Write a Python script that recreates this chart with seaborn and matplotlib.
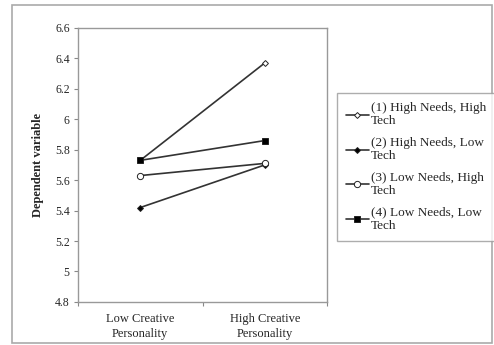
import pandas as pd
import matplotlib.pyplot as plt
import seaborn as sns
from matplotlib.patches import Rectangle
from matplotlib.ticker import FixedLocator

categories = ['Low Creative\nPersonality', 'High Creative\nPersonality']
groups = ['(1) High Needs, High\nTech', '(2) High Needs, Low\nTech',
          '(3) Low Needs, High\nTech', '(4) Low Needs, Low\nTech']
values_1 = [5.73, 6.37]
values_2 = [5.42, 5.70]
values_3 = [5.63, 5.71]
values_4 = [5.73, 5.86]
y_ticks = [4.8, 5.0, 5.2, 5.4, 5.6, 5.8, 6.0, 6.2, 6.4, 6.6]

sns.set_theme(style='white')
plt.rcParams['font.family'] = ['Liberation Serif', 'DejaVu Serif']

fig = plt.figure(figsize=(4.94, 3.45), dpi=100)
ax = fig.add_axes([0.158, 0.125, 0.504, 0.794])

# marker style per series: (marker, size, facecolor)
styles = [('D', 3, 'white'), ('D', 3, 'black'), ('o', 4.5, 'white'), ('s', 4.5, 'black')]
all_vals = [values_1, values_2, values_3, values_4]
for vals, grp, (mk, ms, fc) in zip(all_vals, groups, styles):
    df = pd.DataFrame({'cat': categories, 'val': vals})
    sns.lineplot(data=df, x='cat', y='val', ax=ax, color='#333333', lw=1.2,
                 marker=mk, markersize=ms, markerfacecolor=fc,
                 markeredgecolor='#222222', markeredgewidth=0.7, label=grp,
                 legend=False)

ax.set_xlim(-0.5, 1.5)
ax.set_ylim(4.8, 6.6)
ax.set_yticks(y_ticks)
ax.set_yticklabels([f'{v:g}' for v in y_ticks], fontsize=8.5)
ax.tick_params(axis='y', left=True, length=3, width=0.8, color='#888888', pad=3)
ax.tick_params(axis='x', which='major', bottom=False, labelsize=9, pad=2)
ax.xaxis.set_minor_locator(FixedLocator([-0.5, 0.5, 1.5]))
ax.tick_params(axis='x', which='minor', bottom=True, length=3, width=0.8, color='#888888')
for t in ax.get_xticklabels():
    t.set_linespacing(1.35)
ax.set_xlabel('')
ax.set_ylabel('Dependent variable', fontsize=9, fontweight='bold', labelpad=8)
for s in ax.spines.values():
    s.set_color('#999999')
    s.set_linewidth(1.0)

handles, labels = ax.get_legend_handles_labels()
leg = fig.legend(handles, labels, loc='upper left', bbox_to_anchor=(0.682, 0.73),
                 fontsize=9.5, frameon=True, fancybox=False, edgecolor='#999999',
                 handlelength=1.7, handletextpad=0.2, labelspacing=0.75,
                 borderpad=0.7, borderaxespad=0)
leg.get_frame().set_linewidth(1.0)
for t in leg.get_texts():
    t.set_linespacing(1.1)

fig.patches.append(Rectangle((0.024, 0.006), 0.972, 0.98, transform=fig.transFigure,
                             fill=False, edgecolor='#aaaaaa', lw=1.2))

fig.savefig('out.png', dpi=100)
